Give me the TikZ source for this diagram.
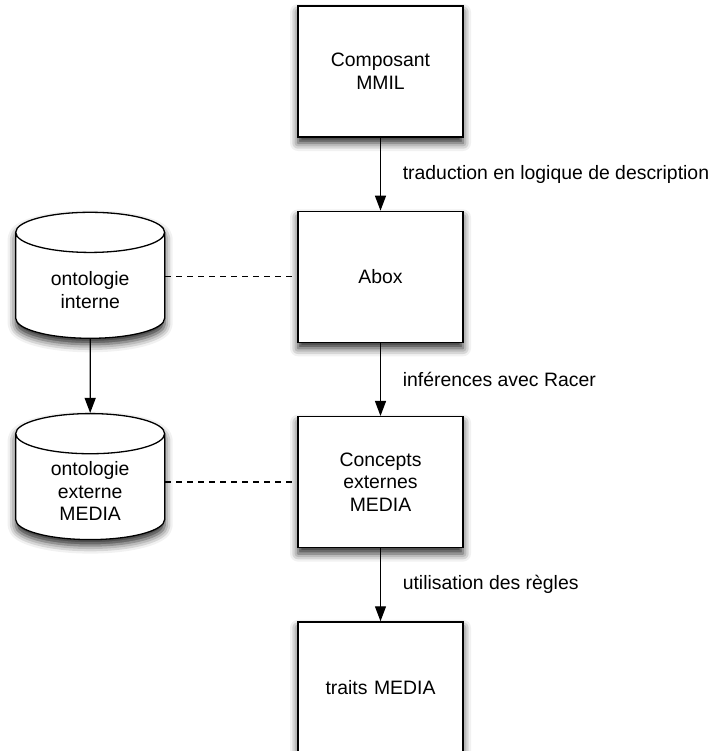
\documentclass[tikz,border=0pt]{standalone}
\usepackage{fontspec}
\setmainfont{Liberation Sans}
\usetikzlibrary{arrows.meta,shapes.geometric,positioning,shadows.blur}
\tikzstyle{every node}=[font=\fontsize{9.7}{11.4}\selectfont]
\tikzset{
        etape/.style={
                draw=black,
                line width=0.65pt,
                fill=white,
                minimum width=82.5pt,
                minimum height=65.5pt,
                text width=75pt,
                align=center,
                blur shadow={shadow xshift=0pt, shadow yshift=-3pt, shadow blur radius=4pt, shadow opacity=85}
            },
        base/.style={
                cylinder,
                shape border rotate=90,
                aspect=0.28,
                draw=black,
                line width=0.65pt,
                fill=white,
                minimum width=74.5pt,
                minimum height=63pt,
                text width=65pt,
                align=center,
                blur shadow={shadow xshift=0pt, shadow yshift=-3pt, shadow blur radius=4pt, shadow opacity=85}
            },
        lien/.style={line width=0.65pt, -{Triangle[length=7.5pt,width=5.5pt]}},
        relation/.style={line width=0.65pt, dash pattern=on 3pt off 2.5pt},
        legende/.style={right, xshift=7.5pt},
}

\begin{document}
\begin{tikzpicture}[x=0.5pt, y=-0.5pt, node distance=36.5pt and 66pt]
\useasboundingbox (0,0) rectangle (716,751);
% Chaine principale
\node[etape] (composant) at (380.5,71.5) {Composant\\MMIL};
\node[etape, below=of composant] (abox) {Abox};
\node[etape, below=of abox] (concepts) {Concepts\\externes\\MEDIA};
\node[etape, below=of concepts] (traits) {traits MEDIA};
% Ontologies
\node[base, left=of abox, yshift=-6.5pt] (ontointerne) {ontologie\\interne};
\node[base, left=of concepts, yshift=-4.5pt] (ontoexterne) {ontologie\\externe\\MEDIA};
% Liens
\draw[lien] (composant) -- node[legende]{traduction en logique de description} (abox);
\draw[lien] (abox) -- node[legende]{inférences avec Racer} (concepts);
\draw[lien] (concepts) -- node[legende]{utilisation des règles} (traits);
\draw[lien] (ontointerne) -- (ontoexterne);
\draw[relation] (abox.west -| ontointerne.east) -- (abox);
\draw[relation] (concepts.west -| ontoexterne.east) -- (concepts);
\end{tikzpicture}
\end{document}
